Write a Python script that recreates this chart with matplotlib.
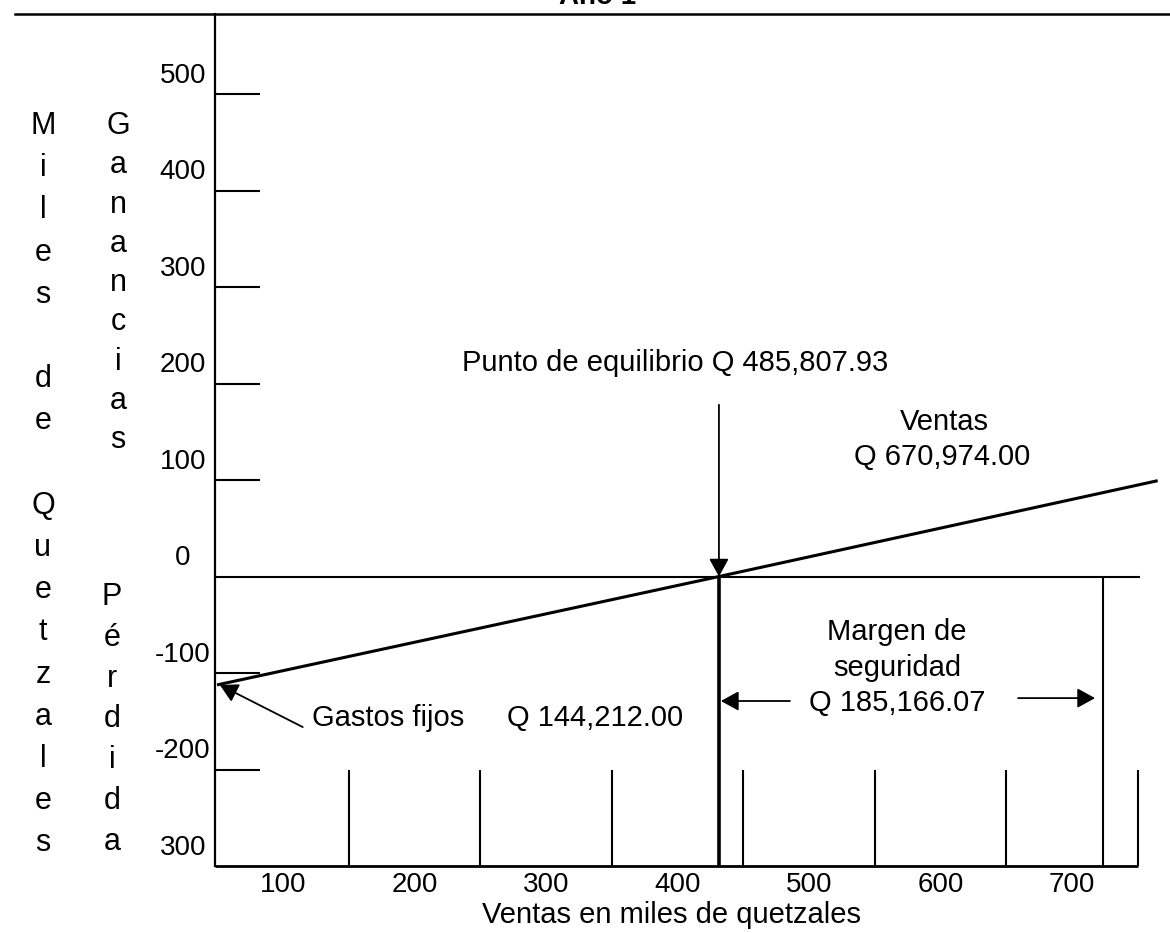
import matplotlib
matplotlib.use('Agg')
import matplotlib.pyplot as plt
from matplotlib.lines import Line2D

plt.rcParams['font.family'] = ['Liberation Sans', 'DejaVu Sans']

# valores (miles de quetzales)
ventas_x = [51, 431.5, 764]
ventas_y = [-112, 0, 99]
punto_equilibrio = 431.5
fin_margen = 723.5
marcas_x = [150, 250, 350, 450, 550, 650, 750]
marcas_y = [500, 400, 300, 200, 100, -100, -200]
etiquetas_y = [500, 400, 300, 200, 100, 0, -100, -200, -300]
textos_y = ['500', '400', '300', '200', '100', '0', '-100', '-200', '300']
etiquetas_x = [100, 200, 300, 400, 500, 600, 700]

W, H = 1170, 933
x0, x1 = 48.3, 774.5
y0, y1 = -300, 583

fig = plt.figure(figsize=(W / 100, H / 100), dpi=100)
ax = fig.add_axes([215 / W, 1 - 866 / H, 1 - 215 / W, (866 - 14) / H])
ax.set_xlim(x0, x1)
ax.set_ylim(y0, y1)
for s in ['top', 'right', 'bottom']:
    ax.spines[s].set_visible(False)
ax.spines['left'].set_linewidth(1.6)

# eje inferior
ax.plot([x0, 750], [y0, y0], color='black', lw=2, clip_on=False, solid_capstyle='butt')

ax.set_yticks([])
ax.set_xticks(etiquetas_x)
ax.set_xticklabels([str(v) for v in etiquetas_x], fontsize=20)
ax.tick_params(axis='x', length=0, pad=4)

for v, t in zip(etiquetas_y, textos_y):
    ax.text(24, v + 19, t, ha='center', va='center', fontsize=20)

ax.hlines(marcas_y, x0, x0 + 34, color='black', lw=1.5)
ax.hlines(0, x0, 752, color='black', lw=1.5)
ax.vlines(marcas_x, y0, -200, color='black', lw=1.5)

ax.plot(ventas_x, ventas_y, color='black', lw=2.2)

flecha = dict(arrowstyle='-|>,head_length=0.6,head_width=0.33', color='black',
              lw=1.3, mutation_scale=18, shrinkA=0, shrinkB=0)
ax.annotate('', xy=(punto_equilibrio, 0), xytext=(punto_equilibrio, 178), arrowprops=flecha)
ax.vlines(punto_equilibrio, y0, 0, color='black', lw=2.6)
ax.vlines(fin_margen, y0, 0, color='black', lw=1.5)

ax.annotate('', xy=(punto_equilibrio + 1.5, -129), xytext=(485.5, -129), arrowprops=flecha)
ax.annotate('', xy=(717.5, -126), xytext=(659, -126), arrowprops=flecha)
ax.annotate('', xy=(52, -112.4), xytext=(115, -156), arrowprops=flecha)

fs = 21
ax.text(236, 221, 'Punto de equilibrio Q 485,807.93', ha='left', va='center', fontsize=fs)
ax.text(603, 160, 'Ventas', ha='center', va='center', fontsize=fs)
ax.text(601, 124, 'Q 670,974.00', ha='center', va='center', fontsize=fs)
ax.text(567, -57.5, 'Margen de', ha='center', va='center', fontsize=fs)
ax.text(567, -94.8, 'seguridad', ha='center', va='center', fontsize=fs)
ax.text(567, -131, 'Q 185,166.07', ha='center', va='center', fontsize=fs)
ax.text(122, -146.6, 'Gastos fijos', ha='left', va='center', fontsize=fs)
ax.text(270, -146.6, 'Q 144,212.00', ha='left', va='center', fontsize=fs)

fig.text(672 / W, 1 - 915 / H, 'Ventas en miles de quetzales', ha='center', va='center', fontsize=21)


def vertical(texto, x, y, paso):
    for i, c in enumerate(texto):
        if c != ' ':
            fig.text(x / W, 1 - (y + i * paso) / H, c, ha='center', va='center', fontsize=22)


vertical('Miles de Quetzales', 43, 126, 42.2)
vertical('Ganancias', 118, 126, 39.3)
vertical('Pérdida', 112, 597, 40.8)

fig.add_artist(Line2D([15 / W, 1], [1 - 14 / H, 1 - 14 / H], color='black', lw=1.8))
fig.text(598 / W, 1 - 4 / H, 'Año 1', ha='center', va='baseline', fontsize=20, weight='bold')

fig.savefig('out.png', dpi=100)
